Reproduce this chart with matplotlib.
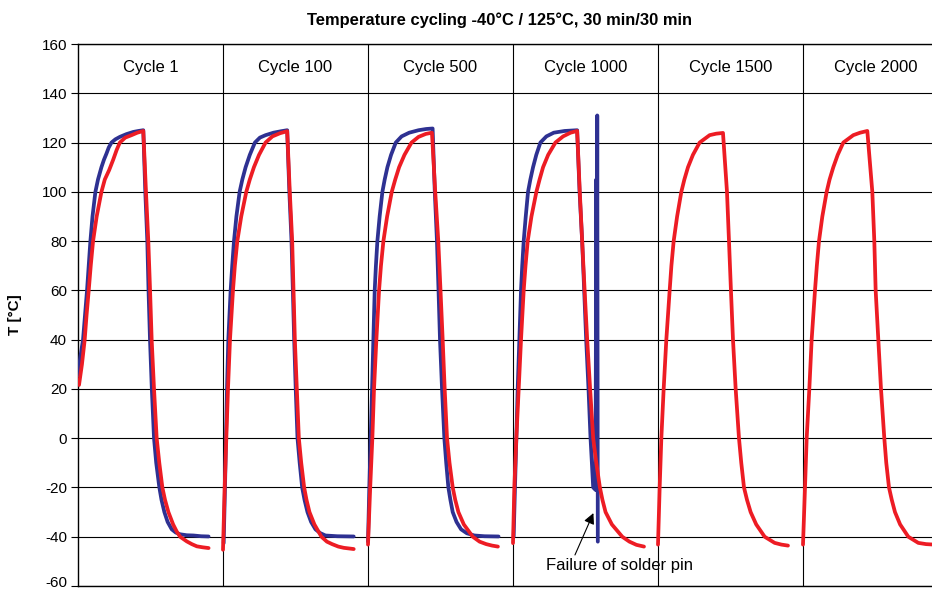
import matplotlib
matplotlib.use("Agg")
import matplotlib.pyplot as plt
from matplotlib.transforms import ScaledTranslation

plt.rcParams['font.family'] = ['Liberation Sans', 'DejaVu Sans']
plt.rcParams['axes.unicode_minus'] = False

# ---- data (time in minutes within each cycle window, temperature in °C) ----
cycle_labels = ["Cycle 1", "Cycle 100", "Cycle 500", "Cycle 1000", "Cycle 1500", "Cycle 2000"]
PANEL = 66.0  # minutes per cycle window

c1_blue_t = [0, 1.07, 2.29, 3.2, 4.11, 5.64, 6.6, 7.92, 9.1, 10.67, 11.8, 12.95, 14.0, 15.24, 17.0,
             19.05, 22.0, 25.15, 27.5, 29.72,
             30.63, 31.55, 32.1, 32.77, 33.6, 34.6, 35.6, 37.03, 38.0, 39.32, 40.8, 42.67, 44.5,
             46.48, 49.5, 52.58, 56.0, 59.44]
c1_blue_T = [25.4, 33, 40, 50, 60, 80, 90, 100, 105, 110, 113, 115.5, 118, 120, 121.3,
             122.3, 123.4, 124.3, 124.7, 125,
             100, 80, 60, 40, 20, 0, -10, -20, -25, -30, -34, -37, -38.3,
             -39, -39.4, -39.5, -39.8, -39.9]
c1_red_t = [0.46, 1.8, 3.05, 3.9, 4.88, 5.8, 6.86, 8.5, 10.67, 12.2, 14.17, 16.0, 17.6, 19.05,
            21.5, 24.38, 27.0, 29.72,
            30.94, 32.0, 32.8, 33.53, 34.6, 35.81, 37.0, 38.4, 39.6, 41.15, 43.3, 45.0, 46.48,
            49.53, 51.8, 54.1, 56.8, 59.44]
c1_red_T = [21.6, 30, 40, 50, 60, 70, 80, 90, 100, 105, 108.8, 113, 117, 120,
            122, 123, 124, 124.7,
            100, 80, 60, 40, 20, 0, -10, -20, -25, -30, -35, -38, -40,
            -41.9, -43, -43.9, -44.3, -44.6]

c2_blue_t = [0.3, 0.91, 1.36, 1.82, 2.42, 3.48, 4.2, 5.0, 6.1, 7.57, 8.8, 10.3, 12.2, 14.53,
             16.8, 19.38, 23.0, 26.5, 29.22,
             30.2, 31.19, 31.8, 32.4, 33.1, 33.91, 34.9, 36.03, 37.1, 38.45, 40.1, 42.09, 44.2,
             46.63, 52.0, 59.5]
c2_blue_T = [-42.6, -20, 0, 20, 40, 60, 70, 80, 90, 100, 105, 110, 115, 120,
             122, 123, 124, 124.6, 125,
             100, 80, 60, 40, 20, 0, -10, -20, -25, -30, -34, -37, -38.5,
             -39.5, -39.8, -39.9]
c2_red_t = [0, 0.76, 1.51, 2.27, 3.18, 4.54, 5.4, 6.51, 8.3, 10.6, 12.2, 14.08, 16.4, 19.38,
            22.5, 26.0, 29.22,
            30.4, 31.49, 32.1, 32.7, 33.6, 34.52, 35.6, 36.94, 38.0, 39.36, 41.6, 44.81, 47.3,
            49.66, 52.5, 54.96, 59.5]
c2_red_T = [-45.3, -20, 0, 20, 40, 60, 70, 80, 90, 100, 105, 110, 115, 120,
            122.5, 123.8, 124.6,
            100, 80, 60, 40, 20, 0, -10, -20, -25, -30, -35, -40, -42,
            -43, -44, -44.5, -45]

c3_blue_t = [0, 0.6, 1.22, 1.85, 2.44, 3.05, 3.6, 4.27, 5.3, 6.55, 7.6, 8.84, 10.5, 12.65,
             15.3, 18.75, 23.0, 26.5, 29.41,
             30.4, 31.39, 32.1, 32.77, 33.7, 34.75, 35.6, 36.58, 37.5, 38.56, 40.3, 42.37, 45.0,
             48.46, 53.0, 59.43]
c3_blue_T = [-42, -20, 0, 20, 40, 60, 70, 80, 90, 100, 105, 110, 115, 120,
             122.5, 124, 125, 125.5, 125.7,
             100, 80, 60, 40, 20, 0, -10, -20, -25, -30, -34, -37, -38.6,
             -39.5, -39.8, -39.9]
c3_red_t = [0, 1.0, 1.98, 2.74, 3.81, 5.03, 5.9, 7.01, 8.7, 10.82, 12.4, 14.17, 16.6, 19.81,
            23.0, 26.3, 29.11,
            30.6, 31.99, 33.0, 33.99, 34.9, 35.97, 37.1, 38.56, 39.7, 41.15, 43.6, 47.7, 50.8,
            53.8, 56.5, 59.13]
c3_red_T = [-43.2, -20, 0, 20, 40, 60, 70, 80, 90, 100, 105, 110, 115, 120,
            122.3, 123.5, 124,
            100, 80, 60, 40, 20, 0, -10, -20, -25, -30, -35, -40, -42,
            -43, -43.6, -44]

c4_blue_t = [0.3, 0.9, 1.52, 2.13, 2.89, 3.65, 4.2, 4.87, 5.8, 6.84, 7.9, 9.13, 10.6, 12.47,
             15.2, 18.56, 23.5, 29.2,
             30.3, 31.48, 32.4, 33.31, 34.37, 35.29, 35.9, 36.5, 37.57,
             37.9, 38.1, 38.35, 38.6]
c4_blue_T = [-40, -20, 0, 20, 40, 60, 70, 80, 90, 100, 105, 110, 115, 120,
             122.5, 124, 124.7, 125,
             100, 80, 60, 40, 20, 0, -10, -20, -21,
             105, -21, 131, -42]
c4_red_t = [0, 0.61, 1.52, 2.59, 3.65, 4.87, 5.7, 6.69, 8.4, 10.65, 12.1, 13.69, 16.0, 19.32,
            22.8, 26.2, 29.2,
            30.4, 31.48, 32.6, 33.77, 35.1, 36.5, 37.9, 39.55, 40.7, 42.13, 45.0, 49.74, 53.0,
            56.2, 59.62]
c4_red_T = [-42.6, -20, 0, 20, 40, 60, 70, 80, 90, 100, 105, 110, 115, 120,
            122.5, 124, 124.7,
            100, 80, 60, 40, 20, 0, -10, -20, -25, -30, -35, -40, -42,
            -43.3, -44]

c5_red_t = [0, 0.76, 1.52, 2.58, 3.79, 5.31, 6.1, 7.13, 8.7, 10.62, 12.0, 13.65, 15.9, 18.96,
            23.51, 26.5, 29.58,
            31.4, 32.31, 33.2, 34.13, 35.35, 36.86, 37.9, 39.14, 40.5, 42.17, 44.7, 48.54, 53.1,
            56.2, 59.16]
c5_red_T = [-43.2, -20, 0, 20, 40, 60, 70, 80, 90, 100, 105, 110, 115, 120,
            123, 123.6, 123.9,
            100, 80, 60, 40, 20, 0, -10, -20, -25, -30, -35, -40, -42.5,
            -43.2, -43.6]

c6_red_t = [0, 0.91, 1.67, 2.88, 3.94, 5.46, 6.3, 7.28, 8.8, 10.77, 12.1, 13.8, 15.8, 18.35,
            22.9, 26.0, 29.27,
            31.55, 32.46, 33.07, 34.28, 35.5, 37.01, 37.9, 39.14, 40.4, 41.87, 44.2, 47.93, 52.48,
            56.0, 59.76]
c6_red_T = [-43.2, -20, 0, 20, 40, 60, 70, 80, 90, 100, 105, 110, 115, 120,
            123, 124, 124.7,
            100, 80, 60, 40, 20, 0, -10, -20, -25, -30, -35, -40, -42.5,
            -43, -43.2]

blue_series = [(0, c1_blue_t, c1_blue_T), (1, c2_blue_t, c2_blue_T),
               (2, c3_blue_t, c3_blue_T), (3, c4_blue_t, c4_blue_T)]
red_series = [(0, c1_red_t, c1_red_T), (1, c2_red_t, c2_red_T), (2, c3_red_t, c3_red_T),
              (3, c4_red_t, c4_red_T), (4, c5_red_t, c5_red_T), (5, c6_red_t, c6_red_T)]

yticks = list(range(-60, 161, 20))

# annotation anchors (minutes from start, °C)
fail_point = (3 * PANEL + 36.6, -30.4)
fail_tail = (3 * PANEL + 28.2, -47.4)
fail_text = (3 * PANEL + 48.7, -51.5)

BLUE = '#2e3192'
RED = '#ed1c24'

fig = plt.figure(figsize=(9.32, 5.92), dpi=100)
ax = fig.add_axes([78/932, 1-586/592, 1-78/932, (586-44)/592])

for k, t, T in blue_series:
    ax.plot([k*PANEL + v for v in t], T, color=BLUE, lw=2.7, solid_joinstyle='round',
            solid_capstyle='round', zorder=3)
for k, t, T in red_series:
    ax.plot([k*PANEL + v for v in t], T, color=RED, lw=2.7, solid_joinstyle='round',
            solid_capstyle='round', zorder=4)

ax.set_ylim(-60, 160)
ax.set_xlim(0, 854/145*PANEL)
ax.set_yticks(yticks)
ax.set_xticks([])
ax.yaxis.grid(True, color='black', lw=0.8, zorder=1)
ax.set_axisbelow(True)
for k in range(1, 6):
    ax.axvline(k*PANEL, color='black', lw=0.8, zorder=1)
for k, lab in enumerate(cycle_labels):
    ax.text(k*PANEL + PANEL/2, 150.5, lab, ha='center', va='center', fontsize=12)

ax.spines['right'].set_visible(False)
for s in ['left', 'top', 'bottom']:
    ax.spines[s].set_linewidth(1.0)
ax.tick_params(axis='y', labelsize=11, length=5, width=0.8, direction='out', pad=3)

# keep the lowest tick label fully inside the figure
lowest = ax.get_yticklabels()[0]
lowest.set_transform(lowest.get_transform() + ScaledTranslation(0, 3/72, fig.dpi_scale_trans))

ax.set_ylabel('T [°C]', fontsize=11, fontweight='bold', labelpad=14)
fig.text(500/932, 1-20/592, 'Temperature cycling -40°C / 125°C, 30 min/30 min',
         ha='center', va='center', fontsize=11.9, fontweight='bold')

ax.annotate('', xy=fail_point, xytext=fail_tail,
            arrowprops=dict(arrowstyle='-|>', color='black', lw=0.8,
                            mutation_scale=16, shrinkA=0, shrinkB=0),
            zorder=5, annotation_clip=False)
ax.text(fail_text[0], fail_text[1], 'Failure of solder pin', ha='center', va='center',
        fontsize=12, zorder=5)

fig.savefig('out.png', dpi=100)
